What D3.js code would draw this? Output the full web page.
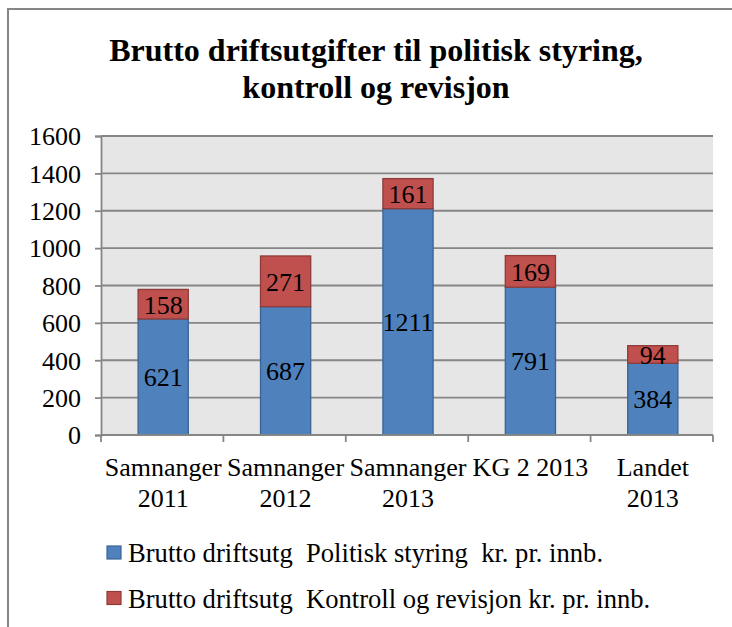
<!DOCTYPE html>
<html>
<head>
<meta charset="utf-8">
<script src="https://cdn.jsdelivr.net/npm/d3@7"></script>
<style>
  body { margin: 0; background: #fff; }
  svg { display: block; }
  svg text { font-family: "Liberation Serif", "Times New Roman", serif; white-space: pre; }
</style>
</head>
<body>
<script>
// data
var categories = ["Samnanger 2011", "Samnanger 2012", "Samnanger 2013", "KG 2 2013", "Landet 2013"];
var categoryLines = [["Samnanger", "2011"], ["Samnanger", "2012"], ["Samnanger", "2013"], ["KG 2 2013"], ["Landet", "2013"]];
var politisk = [621, 687, 1211, 791, 384];
var kontroll = [158, 271, 161, 169, 94];
var seriesNames = ["Brutto driftsutg  Politisk styring  kr. pr. innb.", "Brutto driftsutg  Kontroll og revisjon kr. pr. innb."];
var yTicks = [0, 200, 400, 600, 800, 1000, 1200, 1400, 1600];
var titleLines = ["Brutto driftsutgifter til politisk styring,", "kontroll og revisjon"];

var width = 732, height = 627;
var plot = {left: 101, right: 713, top: 136, bottom: 435};

var svg = d3.select("body").append("svg")
    .attr("width", width)
    .attr("height", height);

// outer chart frame
svg.append("rect")
    .attr("x", 8).attr("y", 9)
    .attr("width", width + 10).attr("height", height + 10)
    .attr("fill", "#fff")
    .attr("stroke", "#868686")
    .attr("stroke-width", 2);

svg.append("g")
    .selectAll("text")
    .data(titleLines)
    .enter().append("text")
    .attr("x", 376)
    .attr("y", function(d, i){ return 61 + i * 37 })
    .attr("text-anchor", "middle")
    .attr("font-size", 32)
    .attr("font-weight", "bold")
    .text(function(d){ return d });

var x = d3.scaleBand()
    .domain(categories)
    .range([plot.left, plot.right])
    .padding(0);

var y = d3.scaleLinear()
    .domain([0, 1600])
    .range([plot.bottom, plot.top]);

var barW = x.bandwidth() * 0.41;

svg.append("rect")
    .attr("x", plot.left).attr("y", plot.top)
    .attr("width", plot.right - plot.left)
    .attr("height", plot.bottom - plot.top)
    .attr("fill", "#e6e6e6");

// gridlines
svg.append("g")
    .selectAll("line")
    .data(yTicks.slice(1))
    .enter().append("line")
    .attr("x1", plot.left).attr("x2", plot.right)
    .attr("y1", function(d){ return y(d) })
    .attr("y2", function(d){ return y(d) })
    .attr("stroke", "#868686")
    .attr("stroke-width", 1.8);

// y axis
var yAxis = svg.append("g")
    .attr("transform", "translate(" + plot.left + ",0)")
    .call(d3.axisLeft(y).tickValues(yTicks).tickSize(6).tickPadding(14).tickFormat(d3.format("d")));
yAxis.attr("font-family", null);
yAxis.select(".domain").attr("stroke", "#868686").attr("stroke-width", 1.8);
yAxis.selectAll(".tick line").attr("stroke", "#868686").attr("stroke-width", 1.8);
yAxis.selectAll(".tick text")
    .attr("font-size", 26)
    .attr("fill", "#000")
    .attr("dy", "0.34em");

// stacked bars
var stack = d3.stack().keys([0, 1])(categories.map(function(c, i){ return [politisk[i], kontroll[i]] }));
var fills = ["#4f81bd", "#c0504d"];
var strokes = ["#3a6496", "#8e3b39"];

var layers = svg.append("g")
    .selectAll("g")
    .data(stack)
    .enter().append("g");

layers.selectAll("rect")
    .data(function(s){ return s.map(function(d, i){ return {s: s.key, i: i, y0: d[0], y1: d[1]} }) })
    .enter().append("rect")
    .attr("x", function(d){ return x(categories[d.i]) + x.bandwidth() / 2 - barW / 2 + 1 })
    .attr("y", function(d){ return y(d.y1) })
    .attr("width", barW)
    .attr("height", function(d){ return y(d.y0) - y(d.y1) })
    .attr("fill", function(d){ return fills[d.s] })
    .attr("stroke", function(d){ return strokes[d.s] })
    .attr("stroke-width", 1.3);

layers.selectAll("text")
    .data(function(s){ return s.map(function(d, i){ return {i: i, y0: d[0], y1: d[1]} }) })
    .enter().append("text")
    .attr("x", function(d){ return x(categories[d.i]) + x.bandwidth() / 2 + 1 })
    .attr("y", function(d){ return y((d.y0 + d.y1) / 2) })
    .attr("dy", "0.36em")
    .attr("text-anchor", "middle")
    .attr("font-size", 26)
    .text(function(d){ return d.y1 - d.y0 });

// x axis
var xAxis = svg.append("g");
xAxis.append("line")
    .attr("x1", plot.left).attr("x2", plot.right)
    .attr("y1", plot.bottom).attr("y2", plot.bottom)
    .attr("stroke", "#868686").attr("stroke-width", 1.8);
xAxis.selectAll("line.tk")
    .data(categories.concat([null]))
    .enter().append("line")
    .attr("class", "tk")
    .attr("x1", function(d){ return d === null ? plot.right : x(d) })
    .attr("x2", function(d){ return d === null ? plot.right : x(d) })
    .attr("y1", plot.bottom).attr("y2", plot.bottom + 7)
    .attr("stroke", "#868686").attr("stroke-width", 1.8);

var xLabels = xAxis.selectAll("text")
    .data(categories)
    .enter().append("text")
    .attr("text-anchor", "middle")
    .attr("font-size", 26);
xLabels.selectAll("tspan")
    .data(function(d, i){ return categoryLines[i].map(function(l){ return {l: l, c: d} }) })
    .enter().append("tspan")
    .attr("x", function(d){ return x(d.c) + x.bandwidth() / 2 + 1 })
    .attr("y", function(d, j){ return 476 + j * 31 })
    .text(function(d){ return d.l });

// legend
var legend = svg.append("g")
    .selectAll("g")
    .data(seriesNames)
    .enter().append("g")
    .attr("transform", function(d, i){ return "translate(107," + (546 + i * 45.5) + ")" });

legend.append("rect")
    .attr("width", 14).attr("height", 13)
    .attr("fill", function(d, i){ return fills[i] })
    .attr("stroke", function(d, i){ return strokes[i] })
    .attr("stroke-width", 1.2);

legend.append("text")
    .attr("x", 21)
    .attr("y", 16)
    .attr("font-size", 26.6)
    .text(function(d){ return d });
</script>
</body>
</html>
